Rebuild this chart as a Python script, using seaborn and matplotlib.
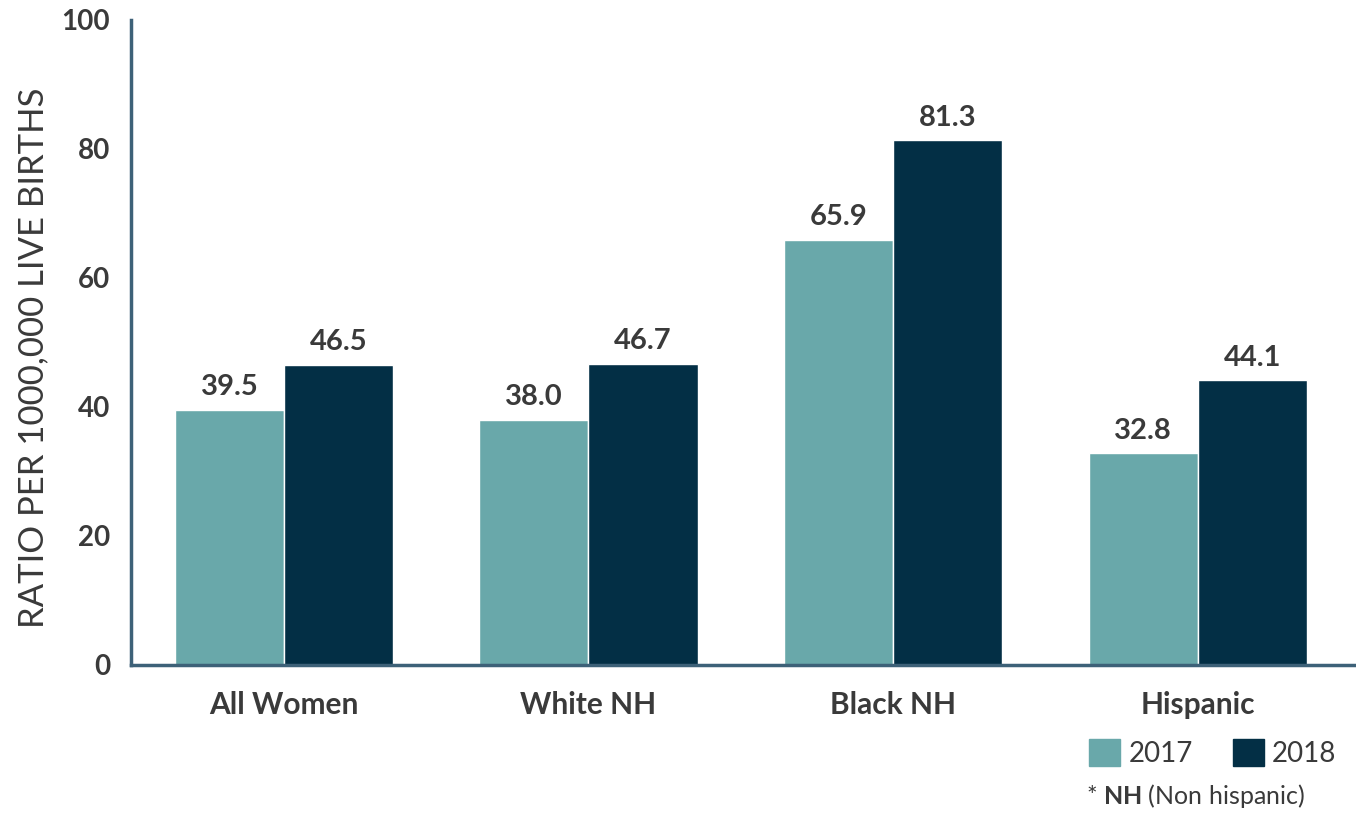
import pandas as pd
import matplotlib.pyplot as plt
import seaborn as sns

groups = ['All Women', 'White NH', 'Black NH', 'Hispanic']
vals_2017 = [39.5, 38.0, 65.9, 32.8]
vals_2018 = [46.5, 46.7, 81.3, 44.1]
years = ['2017', '2018']
colors = ['#69a8aa', '#032f45']

df = pd.DataFrame({
    'group': groups * 2,
    'year': [years[0]] * 4 + [years[1]] * 4,
    'value': vals_2017 + vals_2018,
})

sns.set_style('white')
plt.rcParams['font.family'] = ['Lato', 'DejaVu Sans']
plt.rcParams['mathtext.fontset'] = 'custom'
plt.rcParams['mathtext.bf'] = 'Lato:bold'
plt.rcParams['mathtext.rm'] = 'Lato'
txt = '#3a3a3a'
axis_col = '#3d6178'

fig = plt.figure(figsize=(13.56, 8.25), dpi=100)
ax = fig.add_axes([0.0966, 0.194, 0.9034, 0.782])
sns.barplot(data=df, x='group', y='value', hue='year', palette=colors,
            width=0.716, saturation=1, ax=ax, legend=False)

for c in ax.containers:
    ax.bar_label(c, fmt='%.1f', padding=7, fontsize=21, fontweight='bold', color=txt)

ax.set_xlim(-0.502, 3.52)
ax.set_ylim(0, 100)
ax.set_yticks([0, 20, 40, 60, 80, 100])
ax.tick_params(axis='y', labelsize=20, colors=txt, length=0, pad=15)
ax.tick_params(axis='x', labelsize=21.5, colors=txt, length=0, pad=19)
for lab in ax.get_xticklabels() + ax.get_yticklabels():
    lab.set_fontweight('bold')
ax.set_xlabel('')
ax.set_ylabel('RATIO PER 1000,000 LIVE BIRTHS', fontsize=25, color=txt)
ax.yaxis.set_label_coords(-0.067, 0.476)
sns.despine(ax=ax, top=True, right=True)
for s in ['left', 'bottom']:
    ax.spines[s].set_color(axis_col)
    ax.spines[s].set_linewidth(2.5)

handles = [plt.Rectangle((0, 0), 1, 1, color=c) for c in colors]
fig.legend(handles, years, loc='center left', bbox_to_anchor=(0.785, 0.087),
           ncol=2, frameon=False, fontsize=20, handlelength=1.1, handleheight=1.1,
           handletextpad=0.3, columnspacing=1.45, labelcolor=txt)
fig.text(0.801, 0.026, r'* $\bf{NH}$ (Non hispanic)', fontsize=18, color=txt)

fig.savefig('out.png', dpi=100)
